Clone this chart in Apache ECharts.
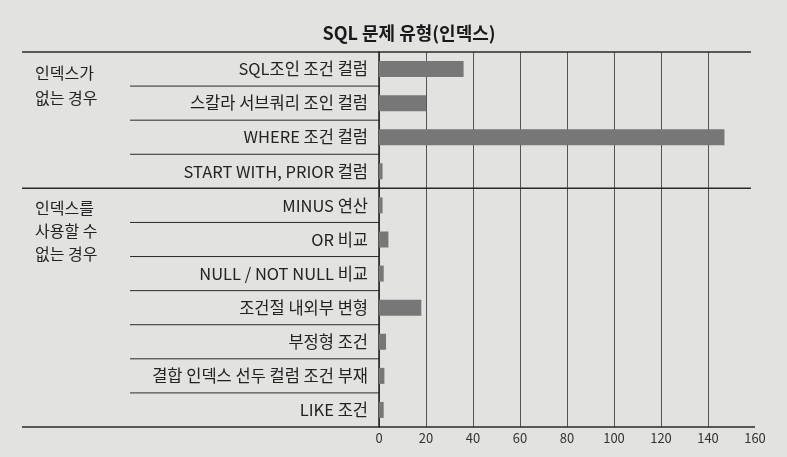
<!DOCTYPE html>
<html><head><meta charset="utf-8">
<script src="https://cdn.jsdelivr.net/npm/echarts@6/dist/echarts.min.js"></script>
<style>html,body{margin:0;padding:0;background:#e2e2e0}#c{width:787px;height:457px}</style>
</head><body><div id="c"></div>
<script>
const chartTitle = 'SQL 문제 유형(인덱스)';
const categories = ['SQL조인 조건 컬럼','스칼라 서브쿼리 조인 컬럼','WHERE 조건 컬럼','START WITH, PRIOR 컬럼','MINUS 연산','OR 비교','NULL / NOT NULL 비교','조건절 내외부 변형','부정형 조건','결합 인덱스 선두 컬럼 조건 부재','LIKE 조건'];
const values = [36, 20, 147, 1.5, 1.5, 4, 2, 18, 3, 2.3, 2];
const groupLabels = ['인덱스가\n없는 경우', '인덱스를\n사용할 수\n없는 경우'];
const groupStarts = [0, 4];
const xMin = 0, xMax = 160, xStep = 20;

const FONT = '"Noto Sans CJK KR", "Noto Sans", sans-serif';
const chart = echarts.init(document.getElementById('c'), null, {renderer: 'canvas'});
const grid = {left: 379, right: 32, top: 52, bottom: 30};
chart.setOption({
  backgroundColor: '#e2e2e0',
  animation: false,
  title: {text: chartTitle, left: 404, top: 19, textAlign: 'center',
    textStyle: {fontFamily: FONT, fontSize: 18, fontWeight: 'bold', color: '#1a1a1a'}},
  grid: grid,
  xAxis: {type: 'value', min: xMin, max: xMax, interval: xStep,
    axisLine: {show: false}, axisTick: {show: false},
    axisLabel: {color: '#333', fontSize: 13, margin: 5, fontFamily: FONT},
    splitLine: {show: true, showMaxLine: false, lineStyle: {color: '#555', width: 1}}},
  yAxis: {type: 'category', data: categories, inverse: true,
    axisLine: {show: true, lineStyle: {color: '#222', width: 1.5}},
    axisTick: {show: false},
    axisLabel: {color: '#222', fontSize: 16.5, margin: 11, fontFamily: FONT}},
  series: [{type: 'bar', data: values, barWidth: 16,
    itemStyle: {color: '#777777'}}]
});

const band = (chart.getHeight() - grid.top - grid.bottom) / categories.length;
const yC = i => chart.convertToPixel({yAxisIndex: 0}, i);
const xRight = chart.convertToPixel({xAxisIndex: 0}, xMax);
const xLeft = chart.convertToPixel({xAxisIndex: 0}, xMin);
const g = [];
const hline = (x1, x2, y, w) => g.push({type: 'line', shape: {x1, y1: y, x2, y2: y}, style: {stroke: '#2a2a2a', lineWidth: w}, silent: true});
const topY = yC(0) - band / 2;
const botY = yC(categories.length - 1) + band / 2;
hline(22, xRight - 4, topY, 1.5);
hline(22, xRight, botY, 1.5);
for (let i = 1; i < categories.length; i++) {
  const y = yC(i) - band / 2;
  if (groupStarts.includes(i)) hline(22, xRight - 4, y, 1.5);
  else hline(130, xLeft, y, 1);
}
groupStarts.forEach((s, k) => {
  g.push({type: 'text', left: 35, top: yC(s) - 9, silent: true,
    style: {text: groupLabels[k], fontFamily: FONT, fontSize: 16, lineHeight: k === 0 ? 25 : 23, fill: '#222'}});
});
chart.setOption({graphic: g});
</script>
</body></html>
